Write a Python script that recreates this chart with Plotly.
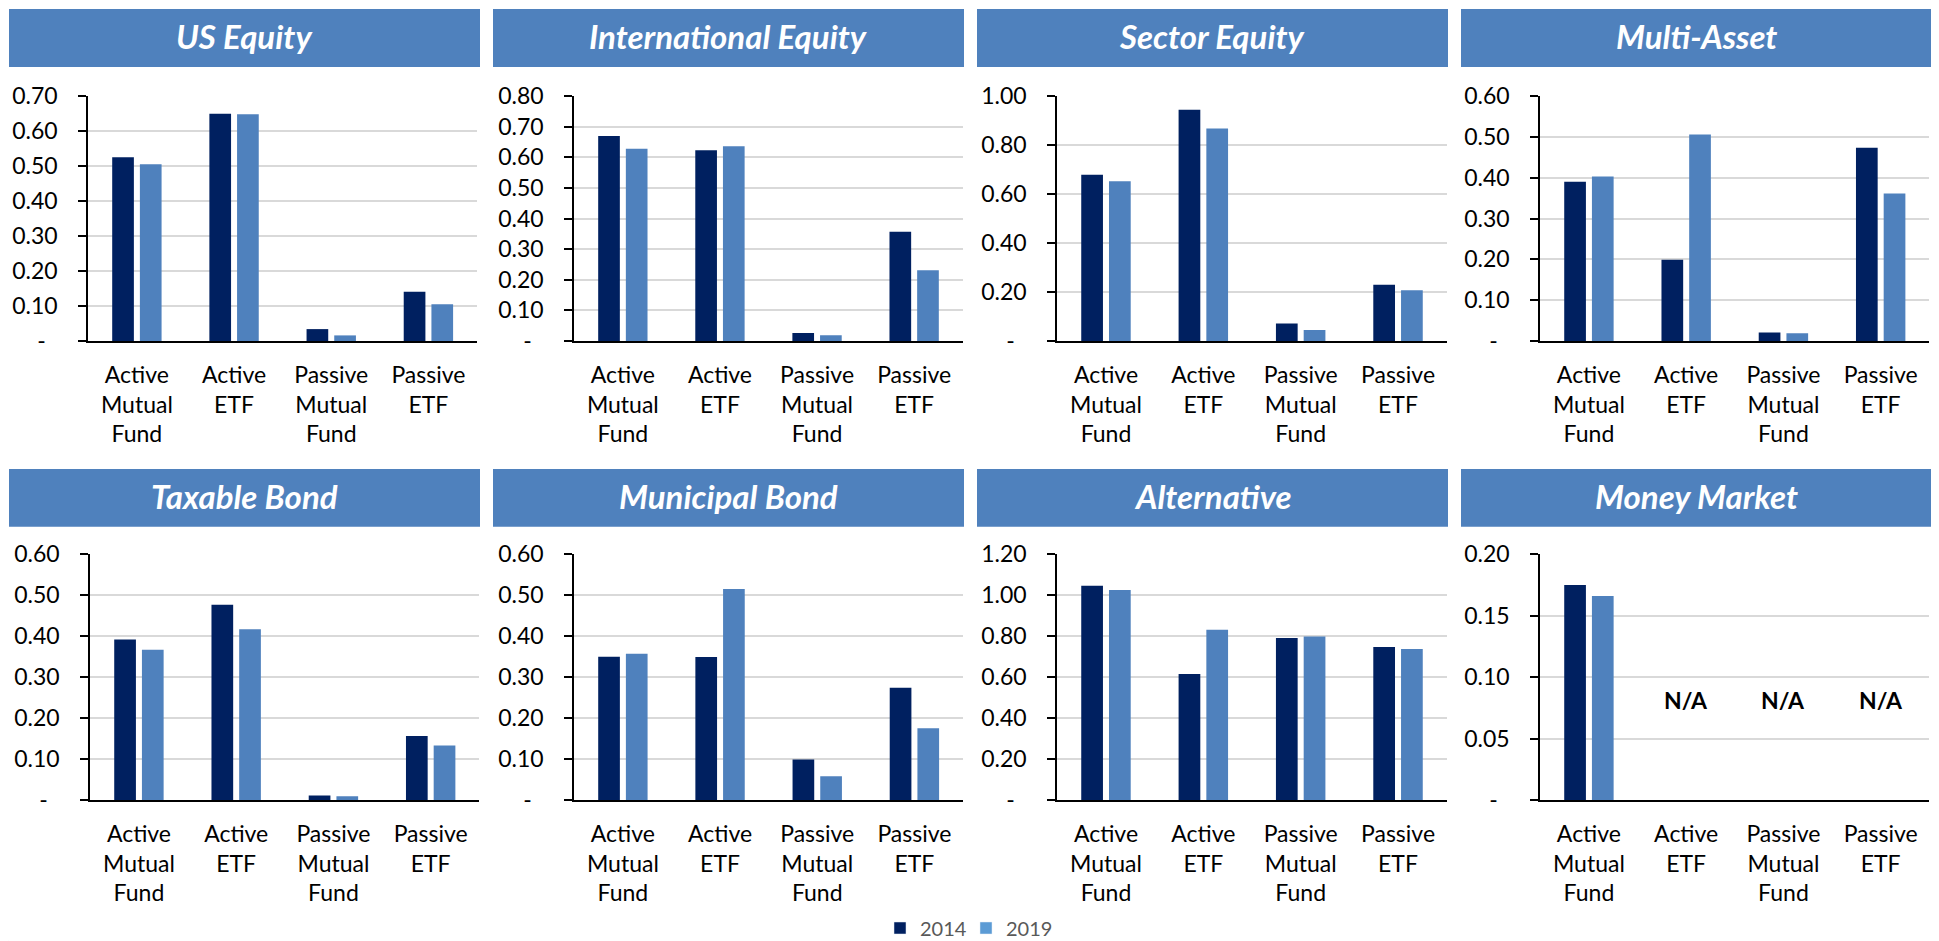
import plotly.graph_objects as go

# ---------------- data ----------------
CATEGORIES = ["Active Mutual Fund", "Active ETF", "Passive Mutual Fund", "Passive ETF"]
CATEGORY_LABELS = ["Active<br>Mutual<br>Fund", "Active<br>ETF", "Passive<br>Mutual<br>Fund", "Passive<br>ETF"]
PANELS = ["US Equity", "International Equity", "Sector Equity", "Multi-Asset",
          "Taxable Bond", "Municipal Bond", "Alternative", "Money Market"]
YEARS = ["2014", "2019"]

us_equity_2014 = [0.525, 0.649, 0.034, 0.141]
us_equity_2019 = [0.505, 0.648, 0.016, 0.105]
intl_equity_2014 = [0.669, 0.623, 0.026, 0.357]
intl_equity_2019 = [0.628, 0.636, 0.019, 0.231]
sector_equity_2014 = [0.679, 0.944, 0.071, 0.230]
sector_equity_2019 = [0.652, 0.867, 0.045, 0.207]
multi_asset_2014 = [0.390, 0.199, 0.021, 0.473]
multi_asset_2019 = [0.403, 0.506, 0.019, 0.361]
taxable_bond_2014 = [0.392, 0.477, 0.011, 0.156]
taxable_bond_2019 = [0.367, 0.417, 0.009, 0.133]
municipal_bond_2014 = [0.350, 0.349, 0.099, 0.274]
municipal_bond_2019 = [0.357, 0.515, 0.058, 0.175]
alternative_2014 = [1.047, 0.615, 0.791, 0.747]
alternative_2019 = [1.026, 0.832, 0.798, 0.738]
money_market_2014 = [0.175, None, None, None]
money_market_2019 = [0.166, None, None, None]

Y_MAX = [0.70, 0.80, 1.00, 0.60, 0.60, 0.60, 1.20, 0.20]
Y_STEP = [0.10, 0.10, 0.20, 0.10, 0.10, 0.10, 0.20, 0.05]
NA_LABEL = "N/A"
NA_Y = 0.081

SERIES_2014 = [us_equity_2014, intl_equity_2014, sector_equity_2014, multi_asset_2014,
               taxable_bond_2014, municipal_bond_2014, alternative_2014, money_market_2014]
SERIES_2019 = [us_equity_2019, intl_equity_2019, sector_equity_2019, multi_asset_2019,
               taxable_bond_2019, municipal_bond_2019, alternative_2019, money_market_2019]

# ---------------- styling / layout ----------------
# The page body has an 8px margin, so the figure is sized to fit the window exactly.
PAGE_W, PAGE_H = 1939, 941
BODY = 8
FW, FH = PAGE_W - BODY, PAGE_H - BODY
C2014 = "#002060"
C2019 = "#4F81BD"
LEG2019 = "#5B9BD5"
BANNER = "#4F81BD"
FONT = "Lato"

# positions in window pixels
PLOT_X = [(88.3, 477), (574.3, 962.7), (1057.3, 1446.7), (1540.3, 1929.3),
          (90.3, 479.3), (574.3, 963), (1057.3, 1446.7), (1540.3, 1929.3)]
ROW_Y = [(96, 341), (554.3, 800)]
BANNER_X = [(9, 480), (493, 964), (977, 1448), (1461, 1932)]
BANNER_Y = [(9, 67), (469, 526.7)]
LEGEND_X = [880, 966]
LEGEND_Y = 928


def px_x(v):
    return (v - BODY) / FW


def px_y(v):
    return 1 - (v - BODY) / FH


fig = go.Figure()
layout = {}
annotations = []
shapes = []

for i, name in enumerate(PANELS):
    row, col = divmod(i, 4)
    ax = "" if i == 0 else str(i + 1)
    xa, ya = "x" + ax, "y" + ax
    fig.add_trace(go.Bar(x=CATEGORIES, y=SERIES_2014[i], name=YEARS[0], marker_color=C2014,
                         marker_line_width=0, xaxis=xa, yaxis=ya, showlegend=False))
    fig.add_trace(go.Bar(x=CATEGORIES, y=SERIES_2019[i], name=YEARS[1], marker_color=C2019,
                         marker_line_width=0, xaxis=xa, yaxis=ya, showlegend=False))

    x0, x1 = PLOT_X[i]
    ytop, ybot = ROW_Y[row]
    n = int(round(Y_MAX[i] / Y_STEP[i]))
    tickvals = [k * Y_STEP[i] for k in range(n + 1)]
    ticktext = ["-\u00a0\u00a0" if k == 0 else f"{v:.2f}" for k, v in enumerate(tickvals)]

    layout["xaxis" + ax] = dict(
        domain=[px_x(x0), px_x(x1)], anchor=ya, type="category",
        categoryorder="array", categoryarray=CATEGORIES,
        tickvals=CATEGORIES, ticktext=CATEGORY_LABELS,
        showline=True, linecolor="#000000", linewidth=2, ticks="",
        showgrid=False, zeroline=False, ticklabelstandoff=12,
        tickfont=dict(family=FONT, size=23, color="#000000"),
    )
    layout["yaxis" + ax] = dict(
        domain=[px_y(ybot), px_y(ytop)], anchor=xa, range=[0, Y_MAX[i]],
        tickvals=tickvals, ticktext=ticktext,
        showline=True, linecolor="#000000", linewidth=2,
        ticks="outside", ticklen=8, tickwidth=2, tickcolor="#000000",
        showgrid=True, gridcolor="#D9D9D9", gridwidth=1.5, zeroline=False,
        ticklabelstandoff=16,
        tickfont=dict(family=FONT, size=23, color="#000000"),
    )

    bx0, bx1 = BANNER_X[col]
    by0, by1 = BANNER_Y[row]
    shapes.append(dict(type="rect", xref="paper", yref="paper",
                       x0=px_x(bx0), x1=px_x(bx1), y0=px_y(by1), y1=px_y(by0),
                       fillcolor=BANNER, line_width=0, layer="below"))
    annotations.append(dict(xref="paper", yref="paper", x=px_x((bx0 + bx1) / 2),
                            y=px_y((by0 + by1) / 2), text=name, showarrow=False,
                            xanchor="center", yanchor="middle", yshift=2,
                            font=dict(family=FONT, size=33, color="#FFFFFF",
                                      weight="bold", style="italic")))

    # N/A markers for missing data
    for cat, a, b in zip(CATEGORIES, SERIES_2014[i], SERIES_2019[i]):
        if a is None and b is None:
            annotations.append(dict(xref=xa, yref=ya, x=cat, y=NA_Y, text=NA_LABEL,
                                    showarrow=False, xanchor="center", yanchor="middle",
                                    font=dict(family=FONT, size=23, color="#000000",
                                              weight="bold")))

# legend entries (hidden helper axis), one legend box per year for exact placement
fig.add_trace(go.Bar(x=["_"], y=[0], name=YEARS[0], marker_color=C2014, legend="legend",
                     xaxis="x9", yaxis="y9", showlegend=True, hoverinfo="skip"))
fig.add_trace(go.Bar(x=["_"], y=[0], name=YEARS[1], marker_color=LEG2019, legend="legend2",
                     xaxis="x9", yaxis="y9", showlegend=True, hoverinfo="skip"))
layout["xaxis9"] = dict(domain=[0, 0.0005], anchor="y9", visible=False)
layout["yaxis9"] = dict(domain=[0, 0.0005], anchor="x9", visible=False)

legend_style = dict(orientation="h", xanchor="left", yanchor="middle",
                    font=dict(family=FONT, size=20, color="#595959"),
                    bgcolor="rgba(0,0,0,0)", itemclick=False, itemdoubleclick=False)

fig.update_layout(
    width=FW, height=FH,
    margin=dict(l=0, r=0, t=0, b=0, autoexpand=False),
    paper_bgcolor="#FFFFFF", plot_bgcolor="#FFFFFF",
    barmode="group", bargap=0.43, bargroupgap=0.217,
    shapes=shapes, annotations=annotations,
    legend=dict(x=px_x(LEGEND_X[0]), y=px_y(LEGEND_Y), **legend_style),
    legend2=dict(x=px_x(LEGEND_X[1]), y=px_y(LEGEND_Y), **legend_style),
    **layout,
)

fig.write_html("out.html")
